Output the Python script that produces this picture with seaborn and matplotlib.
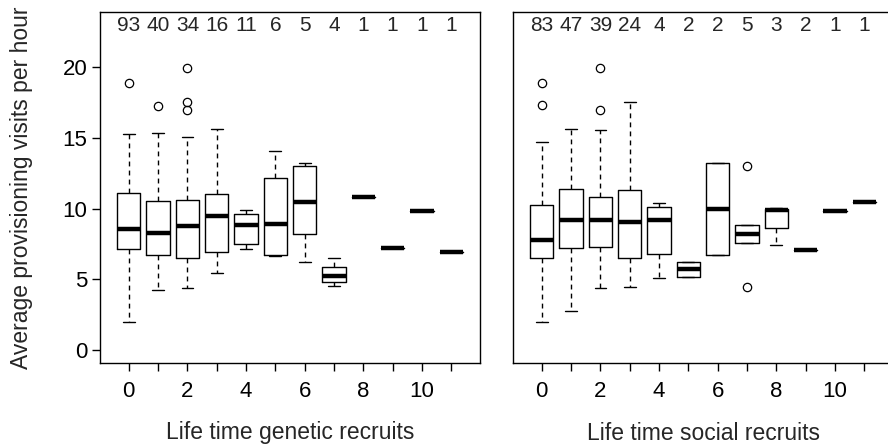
import matplotlib
matplotlib.use("Agg")
import matplotlib.pyplot as plt
import seaborn as sns

# box summaries, one entry per number of recruits (0..11)
gen_n = [93, 40, 34, 16, 11, 6, 5, 4, 1, 1, 1, 1]
gen_med = [8.54, 8.28, 8.75, 9.46, 8.82, 8.92, 10.45, 5.21, 10.80, 7.22, 9.86, 6.91]
gen_q1 = [7.12, 6.70, 6.51, 6.93, 7.50, 6.70, 8.18, 4.81, 10.80, 7.22, 9.86, 6.91]
gen_q3 = [11.13, 10.52, 10.59, 11.04, 9.60, 12.19, 13.04, 5.85, 10.80, 7.22, 9.86, 6.91]
gen_lo = [1.98, 4.27, 4.36, 5.47, 7.12, 6.63, 6.23, 4.50, 10.80, 7.22, 9.86, 6.91]
gen_hi = [15.26, 15.33, 15.09, 15.66, 9.88, 14.06, 13.23, 6.49, 10.80, 7.22, 9.86, 6.91]
gen_out = [[18.9], [17.3], [19.95, 17.55, 17.0], [], [], [], [], [], [], [], [], []]

soc_n = [83, 47, 39, 24, 4, 2, 2, 5, 3, 2, 1, 1]
soc_med = [7.81, 9.20, 9.17, 9.08, 9.20, 5.73, 9.98, 8.21, 9.91, 7.05, 9.83, 10.45]
soc_q1 = [6.51, 7.19, 7.29, 6.53, 6.77, 5.19, 6.70, 7.57, 8.61, 7.05, 9.83, 10.45]
soc_q3 = [10.24, 11.37, 10.85, 11.34, 10.12, 6.23, 13.25, 8.82, 9.95, 7.05, 9.83, 10.45]
soc_lo = [1.96, 2.74, 4.41, 4.46, 5.07, 5.19, 6.70, 7.57, 7.41, 7.05, 9.83, 10.45]
soc_hi = [14.74, 15.64, 15.59, 17.55, 10.38, 6.23, 13.25, 8.82, 10.07, 7.05, 9.83, 10.45]
soc_out = [[18.89, 17.31], [], [19.93, 16.96], [], [], [], [], [13.02, 4.48], [], [], [], []]

recruits = list(range(12))
tick_labels = [str(r) if r % 2 == 0 else "" for r in recruits]

sns.set_theme(style="ticks")
plt.rcParams["font.family"] = ["Liberation Sans", "DejaVu Sans"]

fig = plt.figure(figsize=(8.88, 4.47), dpi=100)
ax1 = fig.add_axes([100 / 888, 84 / 447, 380 / 888, 351 / 447])
ax2 = fig.add_axes([513 / 888, 84 / 447, 380 / 888, 351 / 447])


def draw_panel(ax, n, med, q1, q3, lo, hi, out, xlabel):
    stats = []
    for i in range(len(med)):
        stats.append({"med": med[i], "q1": q1[i], "q3": q3[i],
                      "whislo": lo[i], "whishi": hi[i], "fliers": out[i]})
    ax.bxp(stats, positions=recruits, widths=0.8, patch_artist=False,
           boxprops=dict(color="black", lw=1.0),
           medianprops=dict(color="black", lw=3.2, solid_capstyle="butt"),
           whiskerprops=dict(color="black", lw=1.0, linestyle=(0, (3.5, 3))),
           capprops=dict(color="black", lw=1.0),
           capwidths=0.4,
           flierprops=dict(marker="o", markersize=6, markerfacecolor="none",
                           markeredgecolor="black", markeredgewidth=0.9))
    for x, cnt in zip(recruits, n):
        ax.text(x, 23, str(cnt), ha="center", va="center", fontsize=15)
    ax.set_xlim(-0.98, 11.98)
    ax.set_ylim(-0.92, 23.92)
    ax.set_xticks(recruits)
    ax.set_xticklabels(tick_labels, fontsize=16)
    ax.tick_params(axis="both", direction="out", length=6, width=1, color="black",
                   labelcolor="black")
    ax.tick_params(axis="x", pad=7)
    ax.tick_params(axis="y", pad=3)
    for sp in ax.spines.values():
        sp.set_color("black")
        sp.set_linewidth(1.0)
    ax.set_xlabel(xlabel, fontsize=16.5, va="center")
    ax.xaxis.set_label_coords(0.5, -(433 - 363) / 351)
    ax.grid(False)


draw_panel(ax1, gen_n, gen_med, gen_q1, gen_q3, gen_lo, gen_hi, gen_out,
           "Life time genetic recruits")
draw_panel(ax2, soc_n, soc_med, soc_q1, soc_q3, soc_lo, soc_hi, soc_out,
           "Life time social recruits")

ax1.set_yticks([0, 5, 10, 15, 20])
ax1.set_yticklabels(["0", "5", "10", "15", "20"], fontsize=16)
ax2.set_yticks([])

fig.text(22 / 888, 1 - 187.5 / 447, "Average provisioning visits per hour",
         rotation=90, ha="center", va="center", fontsize=16.5)

fig.savefig("out.png", dpi=100)
plt.close(fig)
